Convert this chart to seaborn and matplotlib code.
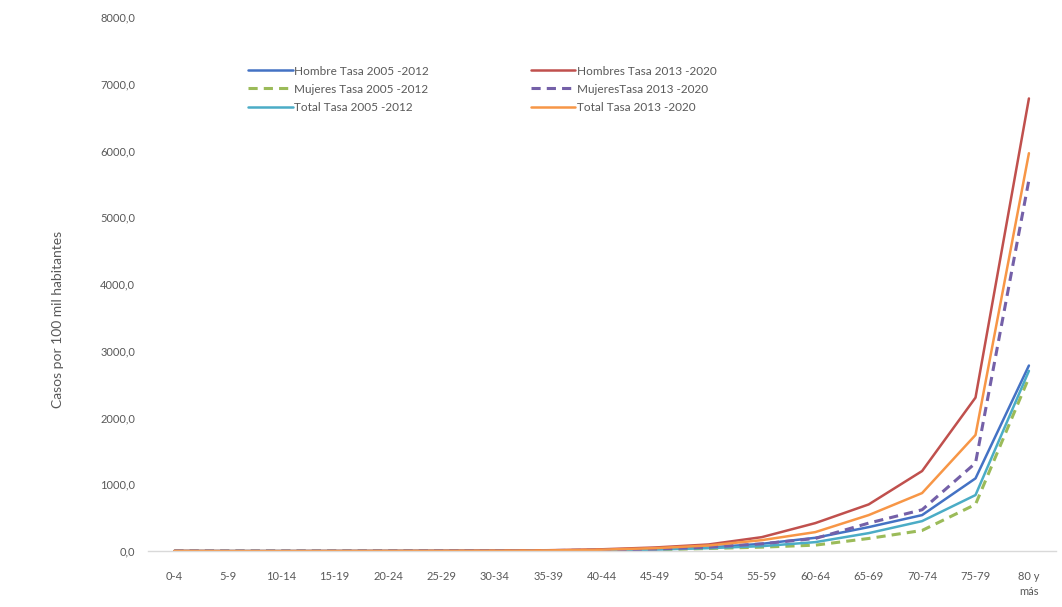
import numpy as np
import pandas as pd
import matplotlib
matplotlib.use("Agg")
import matplotlib.pyplot as plt
import seaborn as sns
from matplotlib.ticker import FuncFormatter

categories = ["0-4", "5-9", "10-14", "15-19", "20-24", "25-29", "30-34", "35-39",
              "40-44", "45-49", "50-54", "55-59", "60-64", "65-69", "70-74", "75-79", "80 y\nmás"]

hombre_2005 = [2, 1, 1, 2, 2, 3, 5, 8, 14, 28, 55, 110, 200, 360, 540, 1090, 2780]
hombres_2013 = [3, 1, 1, 2, 3, 5, 8, 14, 28, 55, 100, 210, 420, 700, 1200, 2300, 6780]
mujeres_2005 = [1, 1, 1, 1, 2, 2, 4, 6, 10, 20, 40, 60, 90, 190, 310, 700, 2600]
mujeres_2013 = [2, 1, 1, 1, 2, 3, 5, 9, 16, 32, 60, 110, 190, 420, 620, 1320, 5560]
total_2005 = [2, 1, 1, 1, 2, 3, 4, 7, 12, 24, 45, 75, 135, 270, 450, 840, 2700]
total_2013 = [3, 1, 1, 2, 3, 4, 6, 11, 22, 45, 85, 165, 285, 540, 870, 1740, 5960]

series = [
    ("Hombre Tasa 2005 -2012", hombre_2005, "#4472C4", "-"),
    ("Mujeres Tasa 2005 -2012", mujeres_2005, "#9BBB59", "--"),
    ("Total Tasa 2005 -2012", total_2005, "#4BACC6", "-"),
    ("Hombres Tasa 2013 -2020", hombres_2013, "#C0504D", "-"),
    ("MujeresTasa 2013 -2020", mujeres_2013, "#7460A8", "--"),
    ("Total Tasa 2013 -2020", total_2013, "#F79646", "-"),
]

sns.set_style("white")
plt.rcParams["font.family"] = ["Lato", "DejaVu Sans"]

fig = plt.figure(figsize=(10.62, 6.07), dpi=100)
ax = fig.add_axes([0.139, 0.092, 0.855, 0.88])

x = np.arange(len(categories))
for name, vals, color, ls in series:
    lw = 2.2 if ls == "--" else 1.8
    sns.lineplot(x=x, y=vals, ax=ax, color=color, linewidth=lw, label=name, sort=False)
    line = ax.get_lines()[-1]
    if ls == "--":
        line.set_dashes([3, 2])

ax.set_xlim(-0.5, len(categories) - 0.5)
ax.set_ylim(0, 8000)
ax.set_yticks(np.arange(0, 8001, 1000))
ax.yaxis.set_major_formatter(FuncFormatter(lambda v, p: f"{v:.1f}".replace(".", ",")))
ax.set_xticks(x)
ax.set_xticklabels(categories, linespacing=1.5)
ax.tick_params(axis="both", labelsize=8, colors="#595959", length=0)
ax.tick_params(axis="y", pad=9)
ax.tick_params(axis="x", pad=14)
ax.set_ylabel("Casos por 100 mil habitantes", fontsize=10, color="#595959")
ax.yaxis.set_label_coords(-0.0925, 0.434)
ax.set_xlabel("")

for s in ["top", "right", "left"]:
    ax.spines[s].set_visible(False)
ax.spines["bottom"].set_color("#D9D9D9")
ax.spines["bottom"].set_linewidth(1.0)

h, l = ax.get_legend_handles_labels()
leg = ax.legend(h, l, ncol=2, loc="upper left", bbox_to_anchor=(0.105, 0.918),
                frameon=False, fontsize=8.5, handlelength=3.8, handletextpad=0.15,
                columnspacing=8.6, labelspacing=0.6, borderaxespad=0)
for t in leg.get_texts():
    t.set_color("#595959")

fig.savefig("out.png", dpi=100, facecolor="white")
